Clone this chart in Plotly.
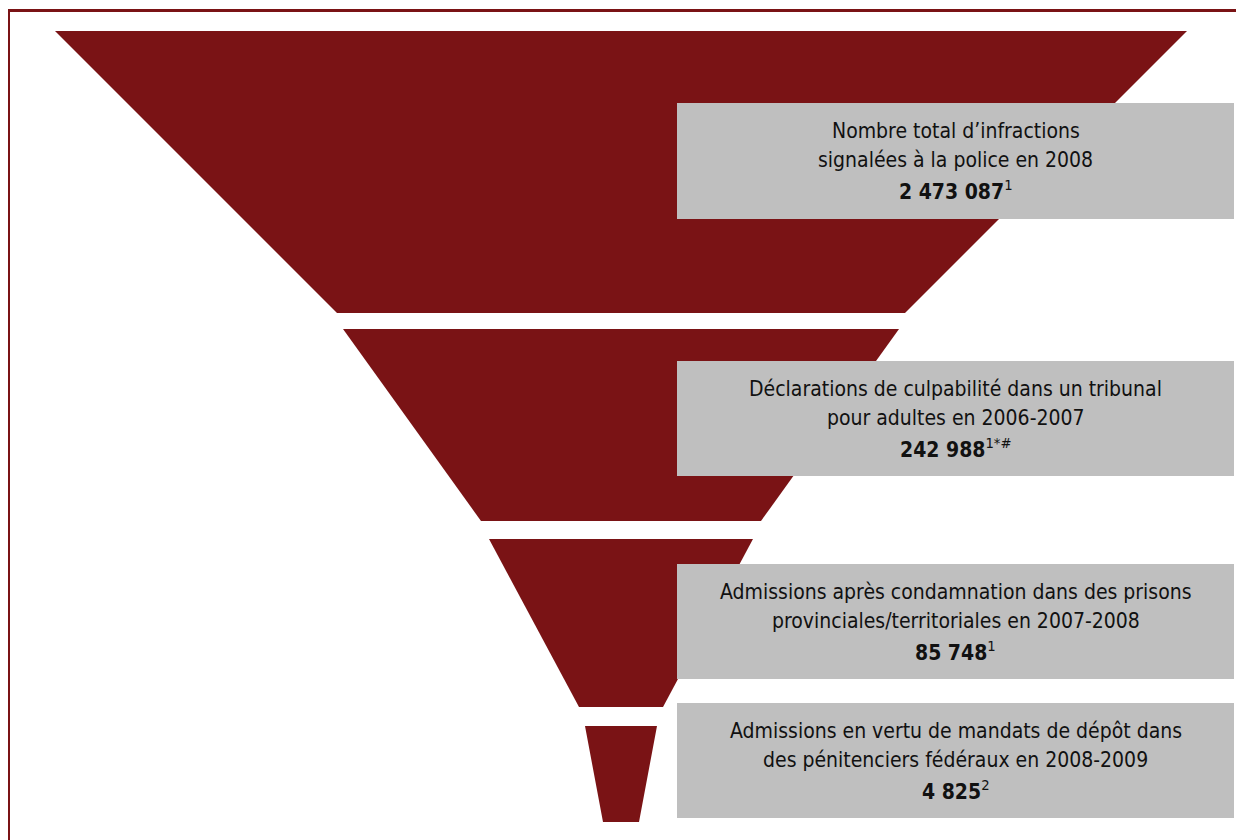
import plotly.graph_objects as go

# stages of the criminal justice funnel
line1 = [
    "Nombre total d’infractions",
    "Déclarations de culpabilité dans un tribunal",
    "Admissions après condamnation dans des prisons",
    "Admissions en vertu de mandats de dépôt dans",
]
line2 = [
    "signalées à la police en 2008",
    "pour adultes en 2006-2007",
    "provinciales/territoriales en 2007-2008",
    "des pénitenciers fédéraux en 2008-2009",
]
counts = ["2 473 087", "242 988", "85 748", "4 825"]
notes = ["1", "1*#", "1", "2"]

# funnel geometry (screen pixel units)
cx = 621
seg_top = [31, 329, 539, 726]
seg_bot = [313, 521, 707, 822]
hw_top = [566, 278, 132, 36]
hw_bot = [284, 140, 42, 18]
box_top = [103, 361, 564, 703]
box_bot = [219, 476, 679, 818]
box_x0, box_x1 = 677, 1234
line_offsets = [-30, -1, 29]

red = "#7A1315"
grey = "#BFBFBF"
font_family = "Liberation Sans Narrow, Arial Narrow, DejaVu Sans Condensed, sans-serif"
off = 8  # page body margin

fig = go.Figure()

for i in range(len(line1)):
    xs = [cx - hw_top[i], cx + hw_top[i], cx + hw_bot[i], cx - hw_bot[i], cx - hw_top[i]]
    ys = [seg_top[i], seg_top[i], seg_bot[i], seg_bot[i], seg_top[i]]
    fig.add_trace(go.Scatter(
        x=xs, y=ys, mode="lines", fill="toself",
        fillcolor=red, line=dict(color=red, width=0),
        hoverinfo="skip", showlegend=False
    ))
    fig.add_shape(type="rect", x0=box_x0, x1=box_x1, y0=box_top[i], y1=box_bot[i],
                  fillcolor=grey, line=dict(width=0), layer="above")
    texts = [line1[i], line2[i], "<b>" + counts[i] + "</b><sup>" + notes[i] + "</sup>"]
    ymid = (box_top[i] + box_bot[i]) / 2
    for t, dy in zip(texts, line_offsets):
        fig.add_annotation(
            x=(box_x0 + box_x1) / 2, y=ymid + dy,
            text=t, showarrow=False, align="center",
            font=dict(family=font_family, size=21, color="#111111")
        )

# outer frame
fig.add_shape(type="rect", x0=8.5, x1=1300, y0=10.5, y1=900,
              line=dict(color=red, width=3), fillcolor="rgba(0,0,0,0)")

fig.update_layout(
    width=1244, height=840,
    margin=dict(l=0, r=0, t=0, b=0),
    plot_bgcolor="white", paper_bgcolor="white",
    xaxis=dict(range=[off, 1244 + off], visible=False, fixedrange=True),
    yaxis=dict(range=[840 + off, off], visible=False, fixedrange=True),
)

fig.write_html("out.html")
